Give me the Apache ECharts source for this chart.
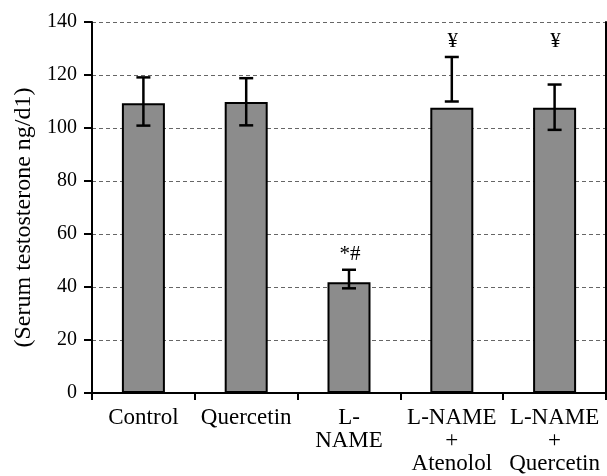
<!DOCTYPE html>
<html>
<head>
<meta charset="utf-8">
<script src="https://cdn.jsdelivr.net/npm/echarts@6/dist/echarts.min.js"></script>
<style>html,body{margin:0;padding:0;background:#fff}#c{width:607px;height:476px}</style>
</head>
<body>
<div id="c"></div>
<script>
var categories = ["Control", "Quercetin", "L-\nNAME", "L-NAME\n+\nAtenolol", "L-NAME\n+\nQuercetin"];
var means = [109.3, 109.8, 41.8, 107.6, 107.6];
var errLow = [100.9, 101.0, 39.5, 110.0, 99.3];
var errHigh = [119.1, 118.8, 46.5, 126.8, 116.4];
var annotations = ["", "", "*#", "\u00a5", "\u00a5"];
var yTicks = {min: 0, max: 140, interval: 20};

var FONT = "Liberation Serif";
// annotation level: highest error bar among bars sharing the same mark
var annotLevel = annotations.map(function (a, i) {
  if (!a) return null;
  var m = 0;
  annotations.forEach(function (b, j) { if (b === a) m = Math.max(m, errHigh[j]); });
  return m;
});

var chart = echarts.init(document.getElementById('c'), null, {renderer: 'canvas'});
chart.setOption({
  animation: false,
  backgroundColor: '#fff',
  grid: {left: 92, right: 1, top: 22, bottom: 83},
  xAxis: [{
    type: 'category', data: categories, position: 'bottom',
    axisLine: {lineStyle: {color: '#000', width: 2}},
    axisTick: {show: true, length: 7, lineStyle: {color: '#000', width: 2}, alignWithLabel: false},
    axisLabel: {color: '#000', fontFamily: FONT, fontSize: 23, lineHeight: 23, margin: 13, interval: 0},
    splitLine: {show: false}
  }, {
    type: 'category', data: categories, position: 'top', z: 5,
    axisLine: {show: true, lineStyle: {color: '#000', width: 2}},
    axisTick: {show: false}, axisLabel: {show: false}
  }],
  yAxis: [{
    type: 'value', min: yTicks.min, max: yTicks.max, interval: yTicks.interval,
    name: '(Serum testosterone ng/d1)', nameLocation: 'middle', nameGap: 55,
    nameTextStyle: {color: '#000', fontFamily: FONT, fontSize: 24, padding: [0, 20, 0, 0]},
    axisLine: {show: true, lineStyle: {color: '#000', width: 2}},
    axisTick: {show: true, length: 8, lineStyle: {color: '#000', width: 2}},
    axisLabel: {color: '#000', fontFamily: FONT, fontSize: 20, margin: 15},
    splitLine: {show: true, lineStyle: {color: '#666', type: [4, 3], width: 1}}
  }, {
    type: 'value', min: yTicks.min, max: yTicks.max, interval: yTicks.interval, position: 'right', z: 5,
    axisLine: {show: true, lineStyle: {color: '#000', width: 2}},
    axisTick: {show: false}, axisLabel: {show: false}, splitLine: {show: false}
  }],
  series: [{
    type: 'bar', data: means, barWidth: 43,
    itemStyle: {color: '#8c8c8c', borderColor: '#000', borderWidth: 2}
  }, {
    type: 'custom', z: 10,
    data: categories.map(function (c, i) { return [i, errLow[i], errHigh[i]]; }),
    renderItem: function (params, api) {
      var lo = api.coord([api.value(0), api.value(1)]);
      var hi = api.coord([api.value(0), api.value(2)]);
      var x = lo[0], w = 7;
      var st = {stroke: '#000', lineWidth: 2.5};
      return {type: 'group', children: [
        {type: 'line', shape: {x1: x, y1: lo[1], x2: x, y2: hi[1]}, style: st},
        {type: 'line', shape: {x1: x - w, y1: lo[1], x2: x + w, y2: lo[1]}, style: st},
        {type: 'line', shape: {x1: x - w, y1: hi[1], x2: x + w, y2: hi[1]}, style: st}
      ]};
    }
  }, {
    type: 'custom', z: 10,
    data: categories.map(function (c, i) { return [i, annotLevel[i] == null ? 0 : annotLevel[i]]; }),
    renderItem: function (params, api) {
      var i = params.dataIndex;
      if (!annotations[i]) return null;
      var p = api.coord([api.value(0), api.value(1)]);
      return {type: 'text', x: p[0] + 1, y: p[1] - 5,
        style: {text: annotations[i], fill: '#000', font: '21px "' + FONT + '"', align: 'center', verticalAlign: 'bottom'}};
    }
  }]
});
</script>
</body>
</html>
